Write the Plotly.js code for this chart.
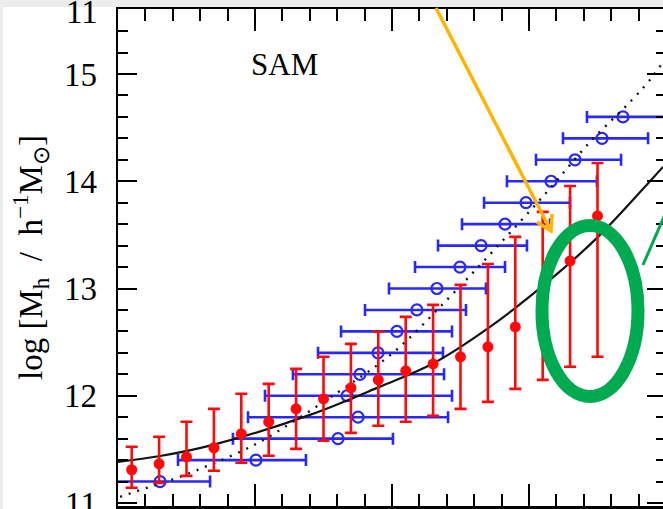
<!DOCTYPE html>
<html>
<head>
<meta charset="utf-8">
<script src="https://cdn.plot.ly/plotly-3.0.1.min.js"></script>
<style>
html,body{margin:0;padding:0;overflow:hidden;background:#fff;}
#chart{width:680px;height:509px;}
</style>
</head>
<body>
<div id="chart"></div>
<script>
// ---- data ----
// red filled points (vertical error bars)
var redX  = [0.1, 0.3, 0.5, 0.7, 0.9, 1.1, 1.3, 1.5, 1.7, 1.9, 2.1, 2.3, 2.5, 2.7, 2.9, 3.1, 3.3, 3.5];
var redY  = [11.31, 11.365, 11.43, 11.515, 11.645, 11.757, 11.878, 11.97, 12.074, 12.148, 12.232, 12.297, 12.363, 12.456, 12.642, 12.93, 13.257, 13.677];
var redHi = [11.524, 11.617, 11.757, 11.878, 12.018, 12.111, 12.251, 12.363, 12.484, 12.596, 12.735, 12.847, 13.034, 13.229, 13.481, 13.714, 13.956, 14.17];
var redLo = [11.142, 11.188, 11.253, 11.3, 11.375, 11.44, 11.505, 11.58, 11.654, 11.72, 11.757, 11.813, 11.878, 11.943, 12.064, 12.148, 12.27, 12.363];

// blue open circles (horizontal error bars)
var blueY  = [11.2, 11.4, 11.6, 11.8, 12.0, 12.2, 12.4, 12.6, 12.8, 13.0, 13.2, 13.4, 13.6, 13.8, 14.0, 14.2, 14.4, 14.6];
var blueX  = [0.307, 1.007, 1.606, 1.752, 1.672, 1.766, 1.898, 2.036, 2.182, 2.328, 2.496, 2.650, 2.825, 2.978, 3.161, 3.336, 3.533, 3.686];
var blueLo = [-0.168, 0.438, 0.839, 0.949, 1.073, 1.277, 1.460, 1.628, 1.803, 1.978, 2.168, 2.336, 2.511, 2.672, 2.839, 3.051, 3.248, 3.423];
var blueHi = [0.672, 1.372, 2.007, 2.409, 2.438, 2.380, 2.372, 2.438, 2.540, 2.686, 2.825, 2.985, 3.153, 3.299, 3.496, 3.672, 3.869, 4.044];

// black solid relation
var solidX = [0, 0.307, 0.693, 1.401, 1.912, 2.299, 2.715, 3.153, 3.504, 3.905, 3.978];
var solidY = [11.384, 11.438, 11.542, 11.822, 12.085, 12.300, 12.642, 13.08, 13.481, 14.031, 14.133];

// black dotted relation
var dotX = [0.015, 0.234, 0.453, 0.672, 0.891, 1.088, 1.599, 2.007, 2.401, 2.766, 3.131, 3.445, 3.752, 3.905, 3.978];
var dotY = [11.058, 11.151, 11.244, 11.356, 11.477, 11.608, 12.027, 12.4, 12.894, 13.388, 13.9, 14.366, 14.758, 14.98, 15.112];

var yTickVals = [11, 12, 13, 14, 15];
var yTickText = ['11', '12', '13', '14', '15'];

// ---- build traces ----
var redPlus = redHi.map(function(v, i){ return v - redY[i]; });
var redMinus = redY.map(function(v, i){ return v - redLo[i]; });
var bluePlus = blueHi.map(function(v, i){ return v - blueX[i]; });
var blueMinus = blueX.map(function(v, i){ return v - blueLo[i]; });

var BLUE = 'rgb(40,40,250)';
var RED = 'rgb(255,10,10)';

var traces = [
  {
    x: blueX, y: blueY, type: 'scatter', mode: 'markers', name: 'blue',
    marker: {symbol: 'circle-open', size: 11, color: BLUE, line: {width: 2.2, color: BLUE}},
    error_x: {type: 'data', symmetric: false, array: bluePlus, arrayminus: blueMinus,
              color: BLUE, thickness: 2.6, width: 6}
  },
  {
    x: solidX, y: solidY, type: 'scatter', mode: 'lines', name: 'solid',
    line: {color: 'rgb(20,20,20)', width: 2.2, shape: 'spline', smoothing: 1}
  },
  {
    x: dotX, y: dotY, type: 'scatter', mode: 'lines', name: 'dotted',
    line: {color: 'rgb(20,20,20)', width: 2.4, dash: '2px,7px', shape: 'spline', smoothing: 1}
  },
  {
    x: redX, y: redY, type: 'scatter', mode: 'markers', name: 'red',
    marker: {symbol: 'circle', size: 11, color: RED},
    error_y: {type: 'data', symmetric: false, array: redPlus, arrayminus: redMinus,
              color: RED, thickness: 2.6, width: 6}
  }
];

var tickFont = {family: 'Liberation Serif, Times New Roman, serif', size: 33, color: '#000'};

var layout = {
  width: 680, height: 509,
  margin: {l: 118, r: 14, t: 9, b: 3, pad: 0},
  paper_bgcolor: '#fff', plot_bgcolor: '#fff',
  showlegend: false,
  xaxis: {
    range: [0, 4], showgrid: false, zeroline: false,
    showline: true, linecolor: '#000', linewidth: 2.5, mirror: 'allticks',
    ticks: 'inside', ticklen: 22, tickwidth: 2, tickcolor: '#000',
    tick0: 0, dtick: 1, showticklabels: false,
    minor: {ticks: 'inside', ticklen: 12, tickwidth: 2, tickcolor: '#000', dtick: 0.2, showgrid: false}
  },
  yaxis: {
    range: [10.972, 15.606], showgrid: false, zeroline: false,
    showline: true, linecolor: '#000', linewidth: 2.5, mirror: 'allticks',
    ticks: 'inside', ticklen: 19, tickwidth: 2, tickcolor: '#000',
    tickmode: 'array', tickvals: yTickVals, ticktext: yTickText,
    tickfont: tickFont, ticklabelstandoff: 12, ticklabeloverflow: 'allow',
    minor: {ticks: 'inside', ticklen: 10, tickwidth: 2, tickcolor: '#000', dtick: 0.2, tick0: 11, showgrid: false},
    title: {
      text: 'log [M<sub>h</sub>\u00a0\u00a0/\u00a0\u00a0h<sup>\u22121</sup>M<sub>\u2299</sub>]',
      font: {family: 'Liberation Serif, Times New Roman, serif', size: 33, color: '#000'},
      standoff: 12
    }
  },
  annotations: [
    {xref: 'paper', yref: 'paper', x: 0.3047, y: 0.8893, text: 'SAM', showarrow: false,
     xanchor: 'center', yanchor: 'middle',
     font: {family: 'Liberation Serif, Times New Roman, serif', size: 31, color: '#000'}},
    {xref: 'paper', yref: 'paper', x: -0.0328, y: 0.994, text: '11', showarrow: false,
     xanchor: 'right', yanchor: 'middle', font: tickFont}
  ],
  shapes: [
    {type: 'rect', xref: 'paper', yref: 'paper', x0: -0.3, x1: 1.1, y0: 1.004, y1: 1.05,
     fillcolor: 'rgb(236,236,236)', line: {width: 0}, layer: 'above'},
    {type: 'rect', xref: 'paper', yref: 'paper', x0: -0.3, x1: -0.2099, y0: -0.1, y1: 1.05,
     fillcolor: 'rgb(236,236,236)', line: {width: 0}, layer: 'above'},
    {type: 'path', xref: 'paper', yref: 'paper',
     path: 'M 0.5803 1.002 L 0.7901 0.5533 M 0.7646 0.5714 L 0.7901 0.5533 L 0.7920 0.5875',
     line: {color: 'rgb(255,180,0)', width: 3.5}, layer: 'above'},
    {type: 'circle', xref: 'paper', yref: 'paper', x0: 0.7737, x1: 0.9489, y0: 0.2203, y1: 0.5644,
     line: {color: 'rgb(0,170,80)', width: 13}, layer: 'above'},
    {type: 'line', xref: 'paper', yref: 'paper', x0: 0.9580, y0: 0.4849, x1: 1.0073, y1: 0.6099,
     line: {color: 'rgb(0,170,80)', width: 3}, layer: 'above'}
  ]
};

Plotly.newPlot('chart', traces, layout, {displayModeBar: false, staticPlot: true});
</script>
</body>
</html>
